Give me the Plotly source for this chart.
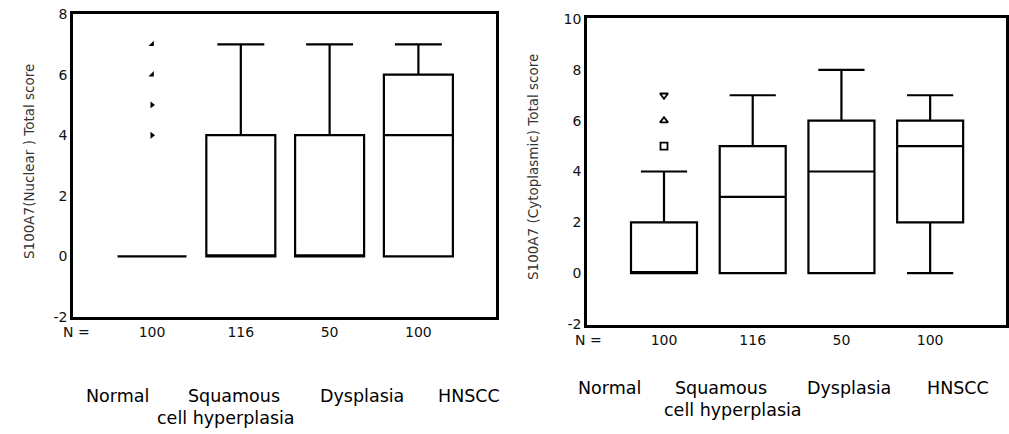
import plotly.graph_objects as go

W, H = 1009, 434

# ---- data ----
groups = ["Normal", "Squamous cell hyperplasia", "Dysplasia", "HNSCC"]
n_labels = ["100", "116", "50", "100"]

# Left: S100A7 (Nuclear) total score
nuc_lower = [0, 0, 0, 0]
nuc_q1 = [0, 0, 0, 0]
nuc_median = [0, 0, 0, 4]
nuc_q3 = [0, 4, 4, 6]
nuc_upper = [0, 7, 7, 7]
nuc_outliers_normal = [4, 5, 6, 7]
nuc_ticks = [-2, 0, 2, 4, 6, 8]

# Right: S100A7 (Cytoplasmic) total score
cyt_lower = [0, 0, 0, 0]
cyt_q1 = [0, 0, 0, 2]
cyt_median = [0, 3, 4, 5]
cyt_q3 = [2, 5, 6, 6]
cyt_upper = [4, 7, 8, 7]
cyt_outliers_normal = [5, 6, 7]
cyt_ticks = [-2, 0, 2, 4, 6, 8, 10]

positions = [0, 1, 2, 3]

def px(x):
    return x / W

def py(y):
    return 1 - y / H

fig = go.Figure()

fig.add_trace(go.Box(
    x=positions, q1=nuc_q1, median=nuc_median, q3=nuc_q3,
    lowerfence=nuc_lower, upperfence=nuc_upper,
    width=0.777, whiskerwidth=0.68, boxpoints=False,
    line=dict(color="black", width=2.2), fillcolor="white",
    xaxis="x", yaxis="y", showlegend=False))

fig.add_trace(go.Scatter(
    x=[positions[0]] * len(nuc_outliers_normal), y=nuc_outliers_normal,
    mode="markers", xaxis="x", yaxis="y", showlegend=False,
    marker=dict(symbol=["triangle-right", "triangle-right", "triangle-se", "triangle-se"],
                size=6, color="black")))

fig.add_trace(go.Box(
    x=positions, q1=cyt_q1, median=cyt_median, q3=cyt_q3,
    lowerfence=cyt_lower, upperfence=cyt_upper,
    width=0.744, whiskerwidth=0.7, boxpoints=False,
    line=dict(color="black", width=2.2), fillcolor="white",
    xaxis="x2", yaxis="y2", showlegend=False))

fig.add_trace(go.Scatter(
    x=[positions[0]] * len(cyt_outliers_normal), y=cyt_outliers_normal,
    mode="markers", xaxis="x2", yaxis="y2", showlegend=False,
    marker=dict(symbol=["square-open", "triangle-up-open", "triangle-down-open"],
                size=7, color="black", line=dict(width=1.8, color="black"))))

tickfont = dict(family="DejaVu Sans", size=14, color="#111")
axis_common = dict(showline=True, linecolor="black", linewidth=2.5, mirror=True,
                   showgrid=False, zeroline=False, ticks="", tickfont=tickfont,
                   automargin=False)

fig.update_layout(
    width=W, height=H,
    margin=dict(l=0, r=0, t=0, b=0, autoexpand=False),
    paper_bgcolor="white", plot_bgcolor="white",
    xaxis=dict(domain=[px(73), px(496)], range=[-0.89, 3.874],
               tickvals=positions, ticktext=n_labels, anchor="y", **axis_common),
    yaxis=dict(domain=[py(317), py(14)], range=[-2, 8],
               tickvals=nuc_ticks, ticktext=[str(t) for t in nuc_ticks],
               anchor="x", **axis_common),
    xaxis2=dict(domain=[px(587), px(1006)], range=[-0.868, 3.855],
                tickvals=positions, ticktext=n_labels, anchor="y2", **axis_common),
    yaxis2=dict(domain=[py(325), py(18)], range=[-2.04, 10.04],
                tickvals=cyt_ticks, ticktext=[str(t) for t in cyt_ticks],
                anchor="x2", **axis_common),
)

annots = []
def add_text(text, x, y, size, angle=0, color="black", family="DejaVu Sans"):
    annots.append(dict(text=text, x=px(x), y=py(y), xref="paper", yref="paper",
                       xanchor="center", yanchor="middle", showarrow=False,
                       textangle=angle, font=dict(family=family, size=size, color=color)))

# axis titles
add_text("S100A7(Nuclear ) Total score", 29, 162, 13.5, angle=-90, color="#333")
add_text("S100A7 (Cytoplasmic) Total score", 533, 167, 13.5, angle=-90, color="#333")

# N = labels
add_text("N =", 76, 332, 14, color="#111")
add_text("N =", 588, 340, 14, color="#111")

# group labels (left)
add_text("Normal", 117.5, 396, 17.5)
add_text("Squamous", 234, 396, 17.5)
add_text("Dysplasia", 362, 396, 17.5)
add_text("HNSCC", 469, 396, 17.5)
add_text("cell hyperplasia", 226, 418, 17.5)

# group labels (right)
add_text("Normal", 609.5, 388, 17.5)
add_text("Squamous", 721, 388, 17.5)
add_text("Dysplasia", 849, 388, 17.5)
add_text("HNSCC", 957.5, 388, 17.5)
add_text("cell hyperplasia", 732.5, 410, 17.5)

fig.update_layout(annotations=annots)

fig.write_html("out.html", config={"displayModeBar": False},
               post_script="document.body.style.margin='0px';document.body.style.overflow='hidden';")
